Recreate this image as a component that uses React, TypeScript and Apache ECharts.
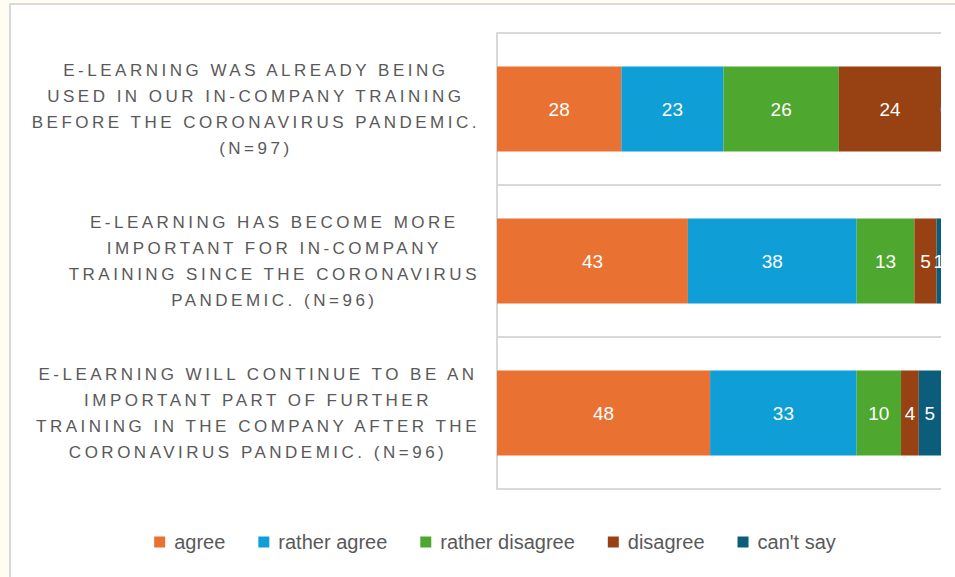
import React, { useEffect, useRef } from "react";
import * as echarts from "echarts";

// Survey statements (category labels, one entry per line)
const statements: string[][] = [
  [
    "E-LEARNING WAS ALREADY BEING",
    "USED IN OUR IN-COMPANY TRAINING",
    "BEFORE THE CORONAVIRUS PANDEMIC.",
    "(N=97)",
  ],
  [
    "E-LEARNING HAS BECOME MORE",
    "IMPORTANT FOR IN-COMPANY",
    "TRAINING SINCE THE CORONAVIRUS",
    "PANDEMIC. (N=96)",
  ],
  [
    "E-LEARNING WILL CONTINUE TO BE AN",
    "IMPORTANT PART OF FURTHER",
    "TRAINING IN THE COMPANY AFTER THE",
    "CORONAVIRUS PANDEMIC. (N=96)",
  ],
];

const responses = ["agree", "rather agree", "rather disagree", "disagree", "can't say"];

// Share of respondents (%) per statement
const agree = [28, 43, 48];
const ratherAgree = [23, 38, 33];
const ratherDisagree = [26, 13, 10];
const disagree = [24, 5, 4];
const cantSay = [0, 1, 5];

const responseColors = ["#E97132", "#0F9ED5", "#4EA72E", "#984112", "#0C5C7C"];

const FONT = "'Liberation Sans', Arial, sans-serif";
const GRID_LEFT = 497;
const LABEL_GAP = 17;
const LETTER_SPACING = 3.5;

export default function App() {
  const ref = useRef<HTMLDivElement>(null);

  useEffect(() => {
    const el = ref.current;
    if (!el) return;
    const chart = echarts.init(el, undefined, { renderer: "svg" });

    const values = [agree, ratherAgree, ratherDisagree, disagree, cantSay];

    chart.setOption({
      animation: false,
      textStyle: { fontFamily: FONT },
      legend: {
        top: 527,
        left: "center",
        itemWidth: 11,
        itemHeight: 11,
        itemGap: 33,
        icon: "rect",
        selectedMode: false,
        textStyle: {
          color: "#595959",
          fontSize: 20,
          fontFamily: FONT,
          padding: [0, 0, 0, 4],
        },
        data: responses,
      },
      grid: { left: GRID_LEFT, right: 49, top: 33, bottom: 88 },
      xAxis: { type: "value", min: 0, max: 100, show: false },
      yAxis: {
        type: "category",
        inverse: true,
        data: statements.map((lines) => lines.join("\n")),
        axisLine: { show: true, lineStyle: { color: "#d9d9d9", width: 2 } },
        axisTick: { show: false },
        splitLine: { show: true, lineStyle: { color: "#d9d9d9", width: 2 } },
        axisLabel: {
          interval: 0,
          margin: LABEL_GAP,
          color: "#595959",
          fontSize: 17,
          lineHeight: 26,
          fontFamily: FONT,
        },
      },
      series: responses.map((name, i) => ({
        name,
        type: "bar",
        stack: "total",
        barWidth: "56%",
        clip: i !== responses.length - 1,
        itemStyle: { color: responseColors[i] },
        label: {
          show: true,
          position: "inside",
          color: "#ffffff",
          fontSize: 19,
          fontFamily: FONT,
        },
        data: values[i],
      })),
    });

    // Spread the statement letters and center each line within its block,
    // keeping the block right-aligned against the axis.
    const spaceOutLabels = () => {
      const svg = el.querySelector("svg");
      if (!svg) return;
      const svgRect = svg.getBoundingClientRect();
      const texts = Array.from(svg.querySelectorAll("text"));
      const used = new Set<Element>();
      const rightEdge = svgRect.left + GRID_LEFT - LABEL_GAP;
      statements.forEach((lines) => {
        const els = lines.map((line) =>
          texts.find((t) => !used.has(t) && t.textContent === line)
        );
        if (els.some((e) => !e)) return;
        const items = els as SVGTextElement[];
        items.forEach((e) => {
          used.add(e);
          e.setAttribute("letter-spacing", String(LETTER_SPACING));
        });
        const boxes = items.map((e) => e.getBoundingClientRect());
        const maxW = Math.max(...boxes.map((b) => b.width));
        const center = rightEdge - maxW / 2;
        items.forEach((e, i) => {
          const b = boxes[i];
          const delta = center - (b.left + b.width / 2);
          const x = parseFloat(e.getAttribute("x") || "0");
          e.setAttribute("x", String(x + delta));
        });
      });
    };
    spaceOutLabels();
    chart.on("finished", spaceOutLabels);

    return () => {
      chart.dispose();
    };
  }, []);

  return (
    <div
      style={{
        position: "fixed",
        left: 0,
        top: 0,
        width: 955,
        height: 577,
        background: "#fffcf2",
        overflow: "hidden",
      }}
    >
      <div
        style={{
          position: "absolute",
          left: 9,
          top: 3,
          width: 980,
          height: 600,
          borderLeft: "2px solid #d9d9d9",
          borderTop: "2px solid #d9d9d9",
          background: "#ffffff",
        }}
      />
      <div
        style={{
          position: "absolute",
          left: 0,
          top: 0,
          width: 942,
          height: 577,
          overflow: "hidden",
        }}
      >
        <div ref={ref} style={{ width: 990, height: 577 }} />
      </div>
    </div>
  );
}
